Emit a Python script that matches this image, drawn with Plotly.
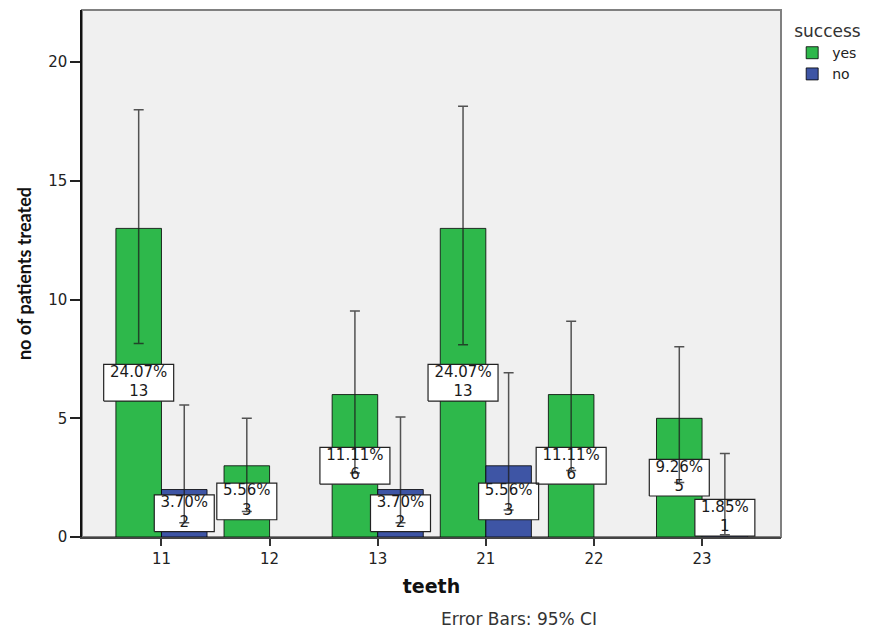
import plotly.graph_objects as go

# ---------------- data ----------------
teeth = ["11", "12", "13", "21", "22", "23"]
series_names = ["yes", "no"]
yes_counts = [13, 3, 6, 13, 6, 5]
no_counts = [2, None, 2, 3, None, 1]
yes_ci_low = [8.15, 1.07, 2.7, 8.1, 2.8, 2.3]
yes_ci_high = [18.0, 5.0, 9.52, 18.15, 9.09, 8.01]
no_ci_low = [0.6, None, 0.6, 1.14, None, 0.1]
no_ci_high = [5.56, None, 5.05, 6.92, None, 3.52]
y_ticks = [0, 5, 10, 15, 20]

# ---------------- style / geometry ----------------
# the page places the figure 8px from the top-left corner (body margin)
W, H = 868, 624
ML, MR, MT, MB = 74, 95, 2, 95
plot_w, plot_h = W - ML - MR, H - MT - MB
x_range = [-0.735, 5.73]
y_range = [0, 22.2]
bargap = 0.157
px_x = plot_w / (x_range[1] - x_range[0])
px_y = plot_h / (y_range[1] - y_range[0])
bar_off = (1 - bargap) / 4

GREEN = "#2eb84b"
BLUE = "#3e55a5"
FONT = "DejaVu Sans"

total = sum(v for v in yes_counts + no_counts if v is not None)
xs = list(range(len(teeth)))

fig = go.Figure()

series = [
    ("yes", yes_counts, yes_ci_low, yes_ci_high, GREEN, -bar_off),
    ("no", no_counts, no_ci_low, no_ci_high, BLUE, bar_off),
]

for name, vals, lo, hi, col, off in series:
    fig.add_trace(go.Bar(
        x=xs, y=vals, name=name,
        marker=dict(color=col, line=dict(color="rgba(0,0,0,0.8)", width=1)),
        hoverinfo="skip",
    ))

# label boxes + texts
bx, by, tx, ty, tt = [], [], [], [], []
hh = 18.35 / px_y
for name, vals, lo, hi, col, off in series:
    for i, v in zip(xs, vals):
        if v is None:
            continue
        pct = f"{100 * v / total:.2f}%"
        hw = (35 if len(pct) >= 6 else 30) / px_x
        cx = i + off
        cy = max(v / 2, hh + 0.04)
        bx += [cx - hw, cx + hw, cx + hw, cx - hw, cx - hw, None]
        by += [cy - hh, cy - hh, cy + hh, cy + hh, cy - hh, None]
        tx.append(cx)
        ty.append(cy)
        tt.append(f"{pct}<br>{v}")

fig.add_trace(go.Scatter(
    x=bx, y=by, mode="lines", fill="toself", fillcolor="white",
    line=dict(color="#222222", width=1.2), showlegend=False, hoverinfo="skip",
))
fig.add_trace(go.Scatter(
    x=tx, y=ty, mode="text", text=tt, textposition="middle center",
    textfont=dict(family=FONT, size=15, color="#1a1a1a"),
    showlegend=False, hoverinfo="skip",
))

# error bars (drawn on top)
for name, vals, lo, hi, col, off in series:
    fig.add_trace(go.Scatter(
        x=[i + off for i in xs], y=vals, mode="markers",
        marker=dict(color="rgba(0,0,0,0)", size=2),
        error_y=dict(
            type="data", symmetric=False,
            array=[None if v is None else h - v for v, h in zip(vals, hi)],
            arrayminus=[None if v is None else v - l for v, l in zip(vals, lo)],
            color="rgba(30,30,30,0.75)", thickness=1.5, width=5,
        ),
        showlegend=False, hoverinfo="skip",
    ))

fig.update_layout(
    width=W, height=H,
    margin=dict(l=ML, r=MR, t=MT, b=MB, pad=0, autoexpand=False),
    paper_bgcolor="white", plot_bgcolor="#f0f0f0",
    barmode="group", bargap=bargap, bargroupgap=0,
    font=dict(family=FONT, color="#222222"),
    legend=dict(
        title=dict(text="success", font=dict(family=FONT, size=17, color="#333333")),
        x=1.016, xanchor="left", y=0.9905, yanchor="top",
        font=dict(family=FONT, size=14, color="#222222"),
        bgcolor="rgba(0,0,0,0)", traceorder="normal",
    ),
    xaxis=dict(
        range=x_range, tickvals=xs, ticktext=teeth,
        showgrid=False, zeroline=False,
        showline=True, linecolor="#444444", linewidth=1.5,
        ticks="outside", ticklen=7, tickcolor="#333333", tickwidth=1.5,
        tickfont=dict(family=FONT, size=15, color="#222222"),
        title=dict(text="<b>teeth</b>", font=dict(family=FONT, size=19, color="#111111"), standoff=13),
    ),
    yaxis=dict(
        range=y_range, tickvals=y_ticks,
        showgrid=False, zeroline=False,
        showline=True, linecolor="#111111", linewidth=1.5,
        ticks="outside", ticklen=10, tickcolor="#222222", tickwidth=1.5,
        tickfont=dict(family=FONT, size=15, color="#222222"),
        title=dict(text="<b>no of patients treated</b>", font=dict(family="Lato", size=18, color="#111111"), standoff=12),
    ),
    shapes=[dict(
        type="rect", xref="paper", yref="paper", x0=0, x1=1, y0=0, y1=1,
        line=dict(color="#808080", width=2), layer="below",
    )],
    annotations=[dict(
        text="Error Bars: 95% CI", xref="paper", yref="paper",
        x=(511 - ML) / plot_w, y=-(611 - (H - MB)) / plot_h,
        xanchor="center", yanchor="middle", showarrow=False,
        font=dict(family=FONT, size=17, color="#333333"),
    )],
)

fig.write_html("out.html")
